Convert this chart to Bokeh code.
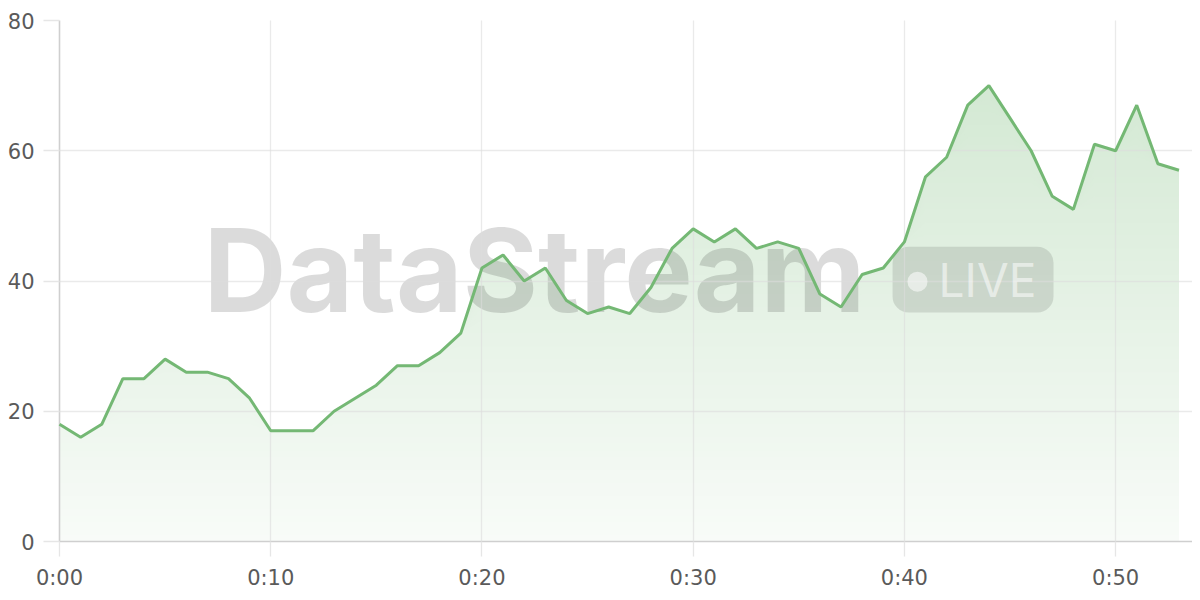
import numpy as np
from bokeh.plotting import figure
from bokeh.models import Range1d, FixedTicker, BoxAnnotation
from bokeh.core.properties import value
from bokeh.embed import file_html
from bokeh.resources import INLINE

# ---- data ----
minutes = list(range(54))
viewers = [18, 16, 18, 25, 25, 28, 26, 26, 25, 22,
           17, 17, 17, 20, 22, 24, 27, 27, 29, 32,
           42, 44, 40, 42, 37, 35, 36, 35, 39, 45,
           48, 46, 48, 45, 46, 45, 38, 36, 41, 42,
           46, 56, 59, 67, 70, 65, 60, 53, 51, 61,
           60, 67, 58, 57]
x_ticks = [0, 10, 20, 30, 40, 50]
x_tick_labels = ["0:00", "0:10", "0:20", "0:30", "0:40", "0:50"]
y_ticks = [0, 20, 40, 60, 80]

LABEL_FONT = "DejaVu Sans"
MARK_FONT = "Inter"
GREEN = (116, 184, 116)
GREEN_HEX = "#74b874"

p = figure(width=1192, height=592, output_backend="svg", toolbar_location=None,
           x_range=Range1d(0, 53.64), y_range=Range1d(0, 80),
           min_border_left=59, min_border_top=20, min_border_right=0,
           min_border_bottom=49)
p.outline_line_color = None
p.background_fill_color = "white"

# grid (drawn above the opaque gradient area)
p.xgrid.ticker = FixedTicker(ticks=x_ticks)
p.ygrid.ticker = FixedTicker(ticks=y_ticks)
for g in (p.xgrid, p.ygrid):
    g.grid_line_color = "#dcdcdc"
    g.grid_line_alpha = 0.6
    g.grid_line_width = 1.3
    g.level = "guide"

# axes
for ax in (p.xaxis, p.yaxis):
    ax.axis_line_color = "#cfcfcf"
    ax.axis_line_width = 1.6
    ax.major_tick_line_color = "#e6e6e6"
    ax.major_tick_line_width = 1.3
    ax.major_tick_in = 0
    ax.minor_tick_line_color = None
    ax.major_label_text_font = LABEL_FONT
    ax.major_label_text_font_size = "21px"
    ax.major_label_text_color = "#5a5a5a"
p.xaxis.ticker = FixedTicker(ticks=x_ticks)
p.xaxis.major_label_overrides = {t: l for t, l in zip(x_ticks, x_tick_labels)}
p.xaxis.major_tick_out = 15
p.xaxis.major_label_standoff = 9
p.yaxis.ticker = FixedTicker(ticks=y_ticks)
p.yaxis.major_tick_out = 16
p.yaxis.major_label_standoff = 9

# gradient area: opaque overlapping bands, each from its level up to the line
vals = np.array(viewers, dtype=float)
xs = np.array(minutes, dtype=float)


def grad_color(yv):
    a = 0.05 + 0.30 * yv / 80.0
    r, g, b = (round(255 - a * (255 - c)) for c in GREEN)
    return "#%02x%02x%02x" % (r, g, b)


step = 1.0
for lo in np.arange(0, 80, step):
    y1 = np.minimum(lo, vals)
    p.varea(x=xs, y1=y1, y2=vals, fill_color=grad_color(lo + step / 2), fill_alpha=1.0)

# watermark
p.text(x=[22.49], y=[41.6], text=["DataStream"], text_font=value(MARK_FONT),
       text_font_style="bold", text_font_size="115px", text_align="center",
       text_baseline="middle", text_color="#000000", text_alpha=0.14)
pill = BoxAnnotation(left=39.44, right=47.06, bottom=35.17, top=45.26,
                     fill_color="#000000", fill_alpha=0.11, line_color=None,
                     border_radius=16, level="glyph")
p.add_layout(pill)
dot = p.scatter(x=[40.62], y=[39.9], size=20, marker="circle",
                fill_color="white", fill_alpha=0.55, line_color=None)
dot.level = "annotation"
live = p.text(x=[41.62], y=[40.2], text=["LIVE"], text_font=value(MARK_FONT),
              text_font_size="46px", text_align="left", text_baseline="middle",
              text_color="white", text_alpha=0.55)
live.level = "annotation"

ln = p.line(xs, vals, line_color=GREEN_HEX, line_width=3)
ln.level = "overlay"

open("out.html", "w").write(file_html(p, INLINE))
